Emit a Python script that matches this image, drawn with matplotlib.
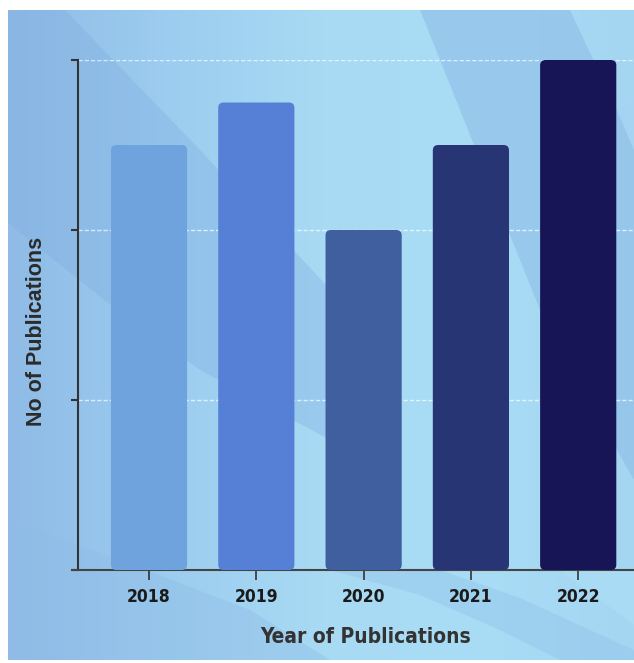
import numpy as np
import matplotlib
matplotlib.use("Agg")
import matplotlib.pyplot as plt
from matplotlib.patches import FancyBboxPatch, Polygon
from matplotlib.colors import LinearSegmentedColormap

# chart data
years = ["2018", "2019", "2020", "2021", "2022"]
publications = [10, 11, 8, 10, 12]
bar_colors = ["#6fa3de", "#5580d6", "#3f5f9f", "#283574", "#181556"]
y_ticks = [0, 4, 8, 12]

W, H = 634, 663
fig = plt.figure(figsize=(W / 100, H / 100), dpi=100)
fig.patch.set_facecolor("white")

# Background: blue gradient with some soft swooshes (pixel coords, y down)
bg = fig.add_axes([8 / W, 3 / H, 1 - 8 / W, 1 - 13 / H])
bg.set_xlim(8, W)
bg.set_ylim(660, 10)
bg.axis("off")
cmap = LinearSegmentedColormap.from_list(
    "bg", ["#8fbbe6", "#9cccef", "#a8daf4", "#a9dcf5", "#a4d6f2"])
grad = np.tile(np.linspace(0, 1, 256), (2, 1))
bg.imshow(grad, cmap=cmap, extent=(8, W, 660, 10), aspect="auto", zorder=0)


def shape(pts, color, alpha):
    bg.add_patch(Polygon(pts, closed=True, facecolor=color, edgecolor="none",
                         alpha=alpha, zorder=1))


# darker diagonal wedge on the upper left (its tip hides behind the 2020 bar)
shape([(8, 10), (65, 10), (200, 150), (328, 287), (370, 340), (380, 460),
       (330, 440), (200, 370), (108, 303), (8, 223)], "#7fade0", 0.35)
# darker slanted band on the top right
shape([(420, 10), (570, 10), (617, 110), (634, 150), (634, 480), (600, 420),
       (560, 350), (540, 310)], "#8ab9e5", 0.5)
shape([(617, 110), (634, 150), (634, 100)], "#a4d4f2", 0.6)
# bottom left darker corner
shape([(8, 520), (120, 560), (250, 610), (330, 660), (8, 660)], "#8fbce6", 0.4)
# curved swooshes at the bottom
shape([(330, 570), (420, 595), (500, 630), (560, 660), (634, 660), (634, 650),
       (590, 630), (520, 598), (440, 570)], "#93c3ea", 0.45)
shape([(560, 570), (600, 600), (634, 625), (634, 570)], "#aee0f7", 0.5)

# Main axes
ax = fig.add_axes([78 / W, 1 - 570 / H, 1 - 78 / W, (570 - 60) / H])
ax.patch.set_alpha(0)
ax.set_xlim(-0.662, 4.52)
ax.set_ylim(0, 12)

x = np.arange(len(years))
bars = ax.bar(x, publications, width=0.71, color=bar_colors)
for b, c in zip(bars, bar_colors):
    b.set_visible(False)
    ax.add_patch(FancyBboxPatch((b.get_x(), b.get_y()), b.get_width(), b.get_height(),
                                boxstyle="round,pad=0,rounding_size=0.05",
                                mutation_aspect=2.5, facecolor=c, edgecolor="none",
                                zorder=3))

for t in y_ticks[1:]:
    ax.axhline(t, color="white", lw=1.0, ls=(0, (3, 1.5)), alpha=0.7, zorder=1)

ax.set_yticks(y_ticks)
ax.set_yticklabels([])
ax.set_xticks(x)
ax.set_xticklabels(years, fontsize=12.5, fontweight="bold", color="#1a1a1a",
                   family="DejaVu Sans", fontstretch="condensed")
ax.tick_params(axis="x", length=7, width=1.2, color="#333333", pad=6)
ax.tick_params(axis="y", length=5, width=1.5, color="#333333")

for side in ["top", "right"]:
    ax.spines[side].set_visible(False)
ax.spines["left"].set_color("#333333")
ax.spines["left"].set_linewidth(1.5)
ax.spines["bottom"].set_color("#444444")
ax.spines["bottom"].set_linewidth(1.5)
ax.spines["bottom"].set_bounds(-0.72, 4.52)

fig.text(366 / W, 1 - 637 / H, "Year of Publications", ha="center", va="center",
         fontsize=15, fontweight="bold", color="#333333",
         family="DejaVu Sans", fontstretch="condensed")
fig.text(37 / W, 1 - 331 / H, "No of Publications", ha="center", va="center",
         rotation=90, fontsize=15.5, fontweight="bold", color="#2b2b2b",
         family=["Liberation Sans", "DejaVu Sans"])

fig.savefig("out.png", dpi=100, facecolor=fig.get_facecolor())
